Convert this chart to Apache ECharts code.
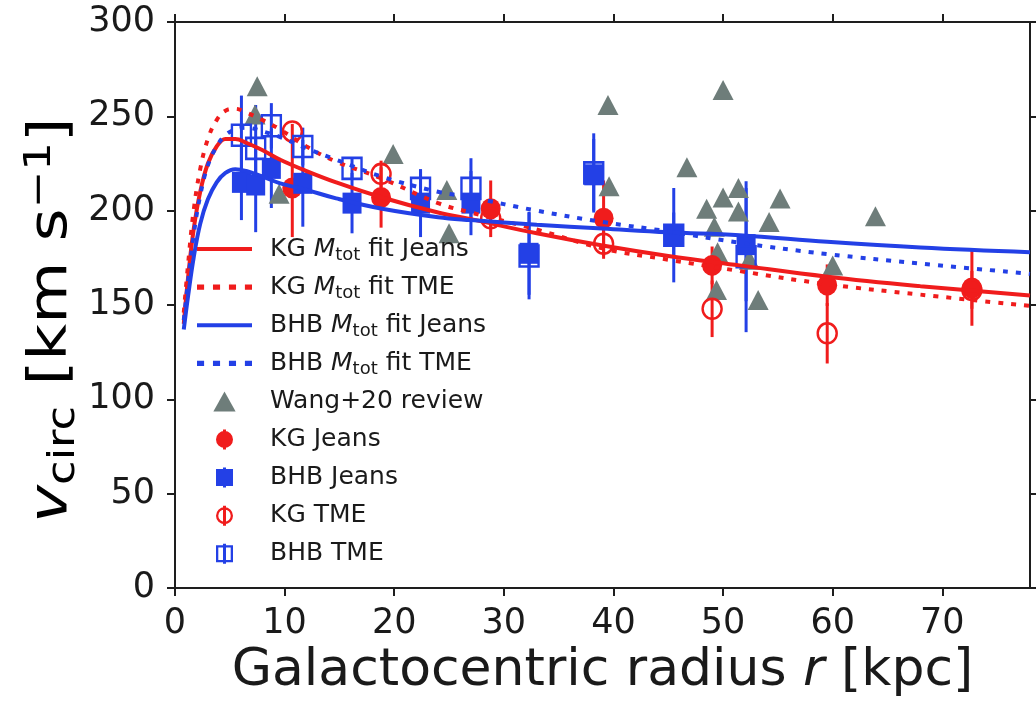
<!DOCTYPE html>
<html>
<head>
<meta charset="utf-8">
<script src="https://cdn.jsdelivr.net/npm/echarts@6/dist/echarts.min.js"></script>
<style>
html,body{margin:0;padding:0;background:#fff;}
#chart{width:1036px;height:704px;}
</style>
</head>
<body>
<div id="chart"></div>
<script>
// ---------- data ----------
const xTicks = [0, 10, 20, 30, 40, 50, 60, 70];
const yTicks = [0, 50, 100, 150, 200, 250, 300];

// model fits (r in kpc, v in km/s)
const fitR        = [0.8, 1.2, 1.7, 2.3, 3.0, 3.8, 4.6, 5.5, 6.5, 8.0, 9.6, 12, 14.7, 18.9, 24, 27, 33, 39, 45, 51.5, 59.5, 68, 78];
const kgFitJeans  = [140, 165, 190, 210, 225, 234, 238, 238, 236, 232, 227, 221, 215, 207, 199, 195.5, 188, 181.5, 176, 171, 165, 160, 155];
const kgFitTME    = [146, 172, 200, 222, 238, 248, 253, 254, 252, 248, 243, 234, 226, 217, 204, 199, 190, 180, 174, 168, 161, 155.5, 149.5];
const bhbFitJeans = [137, 155, 175, 193, 206, 215, 220, 222, 221, 218, 214.5, 211, 206.5, 201, 196.5, 195, 192.5, 190.5, 188.5, 187, 183.5, 180.5, 178];
const bhbFitTME   = [142, 163, 187, 208, 224, 234, 240, 243, 244, 242, 239, 233, 227, 218, 210, 207, 200, 194, 189, 183, 177, 172, 166.5];

// Wang+20 review compilation
const wangR = [7.5, 7.3, 9.5, 19.9, 24.8, 25.0, 39.5, 39.6, 46.7, 48.5, 49.2, 49.5, 49.4, 50.0, 50.0, 51.4, 51.4, 52.4, 53.2, 54.2, 55.2, 60.0, 63.9];
const wangV = [266, 251, 209, 230, 211, 188, 256, 213, 223, 201, 191.5, 178, 158, 264, 207, 212, 199.5, 174, 152.6, 194, 206.5, 171, 197];

// KG (K giants)
const kgR        = [10.7, 18.8, 28.8, 39.1, 49.0, 59.5, 72.7];
const kgJeansV   = [212, 207, 201, 196, 171, 160.5, 159];
const kgJeansErr = [26, 16, 15, 20, 10, 11, 20];
const kgTmeV     = [242, 219.5, 196, 182.5, 148, 135, 158];
const kgTmeErr   = [4, 7, 5, 8, 15, 16, 10];

// BHB stars
const bhbR        = [6.06, 7.36, 8.79, 11.66, 16.15, 22.4, 27.0, 32.3, 38.2, 45.5, 52.1];
const bhbJeansV   = [215, 213.6, 222.4, 214.5, 204, 204, 204, 177.4, 219, 187, 182];
const bhbJeansErr = [20, 25, 21, 23, 16, 18, 17, 22, 19, 25, 30];
const bhbTmeV     = [240, 233, 245, 234, 222.4, 211.8, 211.8, 176, 220, 187, 175.6];
const bhbTmeErr   = [21, 23, 12, 10, 6, 10, 16, 23, 21, 12, 40];

const legendNames = ['KG Mtot fit Jeans', 'KG Mtot fit TME', 'BHB Mtot fit Jeans', 'BHB Mtot fit TME',
                     'Wang+20 review', 'KG Jeans', 'BHB Jeans', 'KG TME', 'BHB TME'];

// ---------- styling ----------
const FONT = 'DejaVu Sans';
const RED = '#f01c1c';
const BLUE = '#2340e6';
const GRAY = '#6e7d7a';
const AX = '#1e1e1e';
const TXT = '#1a1a1a';

const zip = (a, b) => a.map((x, i) => [x, b[i]]);

function errSeries(name, rArr, vArr, eArr, color) {
  return {
    type: 'custom', name: name, silent: true, clip: true,
    data: rArr.map((r, i) => [r, vArr[i] - eArr[i], vArr[i] + eArr[i]]),
    encode: { x: 0, y: [1, 2] },
    renderItem: function (params, api) {
      const p1 = api.coord([api.value(0), api.value(1)]);
      const p2 = api.coord([api.value(0), api.value(2)]);
      return { type: 'line', shape: { x1: p1[0], y1: p1[1], x2: p2[0], y2: p2[1] },
               style: { stroke: color, lineWidth: 3 } };
    }
  };
}
function fitSeries(name, vals, color, dotted) {
  return {
    type: 'line', name: name, data: zip(fitR, vals), symbol: 'none', showSymbol: false,
    smooth: 0.4, silent: true,
    lineStyle: { color: color, width: 4, type: dotted ? [5, 8] : 'solid', cap: 'butt' },
    itemStyle: { color: color }
  };
}

// legend icons
const iconSolid = 'path://M0,0 H55 V4 H0 Z';
const iconDots = 'path://M0,0 H6 V4.5 H0 Z M13.5,0 H19.5 V4.5 H13.5 Z M27,0 H33 V4.5 H27 Z M40.5,0 H46.5 V4.5 H40.5 Z';
const iconTri = 'path://M10,0 L20,18 L0,18 Z';
const barP = 'M8.5,0 H11.5 V20 H8.5 Z ';
const iconFilledCircle = 'path://' + barP + 'M1.5,10 A8.5,8.5 0 1 1 18.5,10 A8.5,8.5 0 1 1 1.5,10 Z';
const iconRing = 'path://' + barP + 'M1.5,10 A8.5,8.5 0 1 1 18.5,10 A8.5,8.5 0 1 1 1.5,10 Z M3.8,10 A6.2,6.2 0 1 0 16.2,10 A6.2,6.2 0 1 0 3.8,10 Z';
const iconFilledSq = 'path://' + barP + 'M1.5,1.5 H18.5 V18.5 H1.5 Z';
const iconOpenSq = 'path://' + barP + 'M1.5,1.5 H18.5 V18.5 H1.5 Z M3.8,3.8 V16.2 H16.2 V3.8 Z';

const richLegend = {
  n:   { fontFamily: FONT, fontSize: 25, lineHeight: 30, color: TXT },
  it:  { fontFamily: FONT, fontSize: 25, lineHeight: 30, color: TXT, fontStyle: 'italic' },
  sub: { fontFamily: FONT, fontSize: 18, lineHeight: 18, color: TXT, verticalAlign: 'bottom', padding: [11, 0, 0, 0] }
};
// every row carries a subscript token (blank where none) so all rows share one height
const legendText = {
  'KG Mtot fit Jeans': '{n|KG }{it|M}{sub|tot}{n| fit Jeans}',
  'KG Mtot fit TME': '{n|KG }{it|M}{sub|tot}{n| fit TME}',
  'BHB Mtot fit Jeans': '{n|BHB }{it|M}{sub|tot}{n| fit Jeans}',
  'BHB Mtot fit TME': '{n|BHB }{it|M}{sub|tot}{n| fit TME}',
  'Wang+20 review': '{n|Wang+20 review}{sub| }',
  'KG Jeans': '{n|KG Jeans}{sub| }',
  'BHB Jeans': '{n|BHB Jeans}{sub| }',
  'KG TME': '{n|KG TME}{sub| }',
  'BHB TME': '{n|BHB TME}{sub| }'
};
const legendIcons = [iconSolid, iconDots, iconSolid, iconDots, iconTri, iconFilledCircle, iconFilledSq, iconRing, iconOpenSq];
const legendColors = [RED, RED, BLUE, BLUE, GRAY, RED, BLUE, RED, BLUE];

const axisCommon = {
  type: 'value',
  axisLine: { show: true, onZero: false, lineStyle: { color: AX, width: 2 } },
  axisTick: { show: true, length: 8, lineStyle: { color: AX, width: 2 } },
  splitLine: { show: false }
};

const chart = echarts.init(document.getElementById('chart'), null, { renderer: 'canvas' });
chart.setOption({
  animation: false,
  backgroundColor: '#fff',
  grid: { left: 175, right: 6, top: 22, bottom: 116, containLabel: false },
  xAxis: [
    Object.assign({}, axisCommon, {
      position: 'bottom', min: 0, max: 78, interval: 10,
      axisTick: { show: true, length: 8, lineStyle: { color: AX, width: 2 }, customValues: xTicks },
      axisLabel: { show: true, customValues: xTicks, fontFamily: FONT, fontSize: 35, color: TXT, margin: 18 },
      name: '{n|Galactocentric radius }{it|r}{n| [kpc]}',
      nameLocation: 'middle', nameGap: 52,
      nameTextStyle: { rich: {
        n:  { fontFamily: FONT, fontSize: 52, color: TXT, lineHeight: 60 },
        it: { fontFamily: FONT, fontSize: 52, color: TXT, lineHeight: 60, fontStyle: 'italic' }
      } }
    }),
    Object.assign({}, axisCommon, {
      position: 'top', min: 0, max: 78, interval: 10,
      axisTick: { show: true, length: 8, lineStyle: { color: AX, width: 2 }, customValues: xTicks },
      axisLabel: { show: false }
    })
  ],
  yAxis: [
    Object.assign({}, axisCommon, {
      position: 'left', min: 0, max: 300, interval: 50,
      axisTick: { show: true, length: 8, lineStyle: { color: AX, width: 2 }, customValues: yTicks },
      axisLabel: { show: true, customValues: yTicks, fontFamily: FONT, fontSize: 35, color: TXT, margin: 20 }
    }),
    Object.assign({}, axisCommon, {
      position: 'right', min: 0, max: 300, interval: 50,
      axisLabel: { show: false }
    })
  ],
  graphic: [{
    type: 'text', x: 52, y: 320, rotation: Math.PI / 2, scaleX: 1.18, scaleY: 1,
    silent: true,
    style: {
      text: '{it|v}{sub|circ}{n| [km s}{sup|−1}{n|]}',
      align: 'center', verticalAlign: 'middle',
      rich: {
        n:   { fontFamily: FONT, fontSize: 54, color: TXT, lineHeight: 62 },
        it:  { fontFamily: FONT, fontSize: 54, color: TXT, lineHeight: 62, fontStyle: 'italic' },
        sub: { fontFamily: FONT, fontSize: 38, color: TXT, lineHeight: 38, verticalAlign: 'bottom', padding: [22, 0, 0, 0] },
        sup: { fontFamily: FONT, fontSize: 38, color: TXT, lineHeight: 38, verticalAlign: 'top' }
      }
    }
  }],
  legend: {
    orient: 'vertical', left: 197, top: 235,
    itemWidth: 55, itemHeight: 20, itemGap: 9.1,
    padding: 0,
    data: legendNames.map((nm, i) => ({ name: nm, icon: legendIcons[i], itemStyle: { color: legendColors[i], borderWidth: 0, opacity: 1 } })),
    formatter: function (name) { return legendText[name]; },
    textStyle: { rich: richLegend, padding: [0, 0, 0, 13] },
    selectedMode: false
  },
  series: [
    {
      type: 'scatter', name: 'Wang+20 review', data: zip(wangR, wangV),
      symbol: 'triangle', symbolSize: [21, 20], itemStyle: { color: GRAY, opacity: 1 }, silent: true
    },
    fitSeries('KG Mtot fit Jeans', kgFitJeans, RED, false),
    fitSeries('KG Mtot fit TME', kgFitTME, RED, true),
    fitSeries('BHB Mtot fit Jeans', bhbFitJeans, BLUE, false),
    fitSeries('BHB Mtot fit TME', bhbFitTME, BLUE, true),
    errSeries('kgJeansErr', kgR, kgJeansV, kgJeansErr, RED),
    {
      type: 'scatter', name: 'KG Jeans', data: zip(kgR, kgJeansV),
      symbol: 'circle', symbolSize: [20, 21], itemStyle: { color: RED, opacity: 1 }, silent: true
    },
    errSeries('bhbJeansErr', bhbR, bhbJeansV, bhbJeansErr, BLUE),
    {
      type: 'scatter', name: 'BHB Jeans', data: zip(bhbR, bhbJeansV),
      symbol: 'rect', symbolSize: [19, 21], itemStyle: { color: BLUE, opacity: 1 }, silent: true
    },
    errSeries('kgTmeErr', kgR, kgTmeV, kgTmeErr, RED),
    {
      type: 'scatter', name: 'KG TME', data: zip(kgR, kgTmeV),
      symbol: 'circle', symbolSize: [19, 20],
      itemStyle: { color: 'rgba(0,0,0,0)', borderColor: RED, borderWidth: 2.5, opacity: 1 }, silent: true
    },
    errSeries('bhbTmeErr', bhbR, bhbTmeV, bhbTmeErr, BLUE),
    {
      type: 'scatter', name: 'BHB TME', data: zip(bhbR, bhbTmeV),
      symbol: 'rect', symbolSize: [19, 21],
      itemStyle: { color: 'rgba(0,0,0,0)', borderColor: BLUE, borderWidth: 2.5, opacity: 1 }, silent: true
    }
  ]
});
</script>
</body>
</html>
